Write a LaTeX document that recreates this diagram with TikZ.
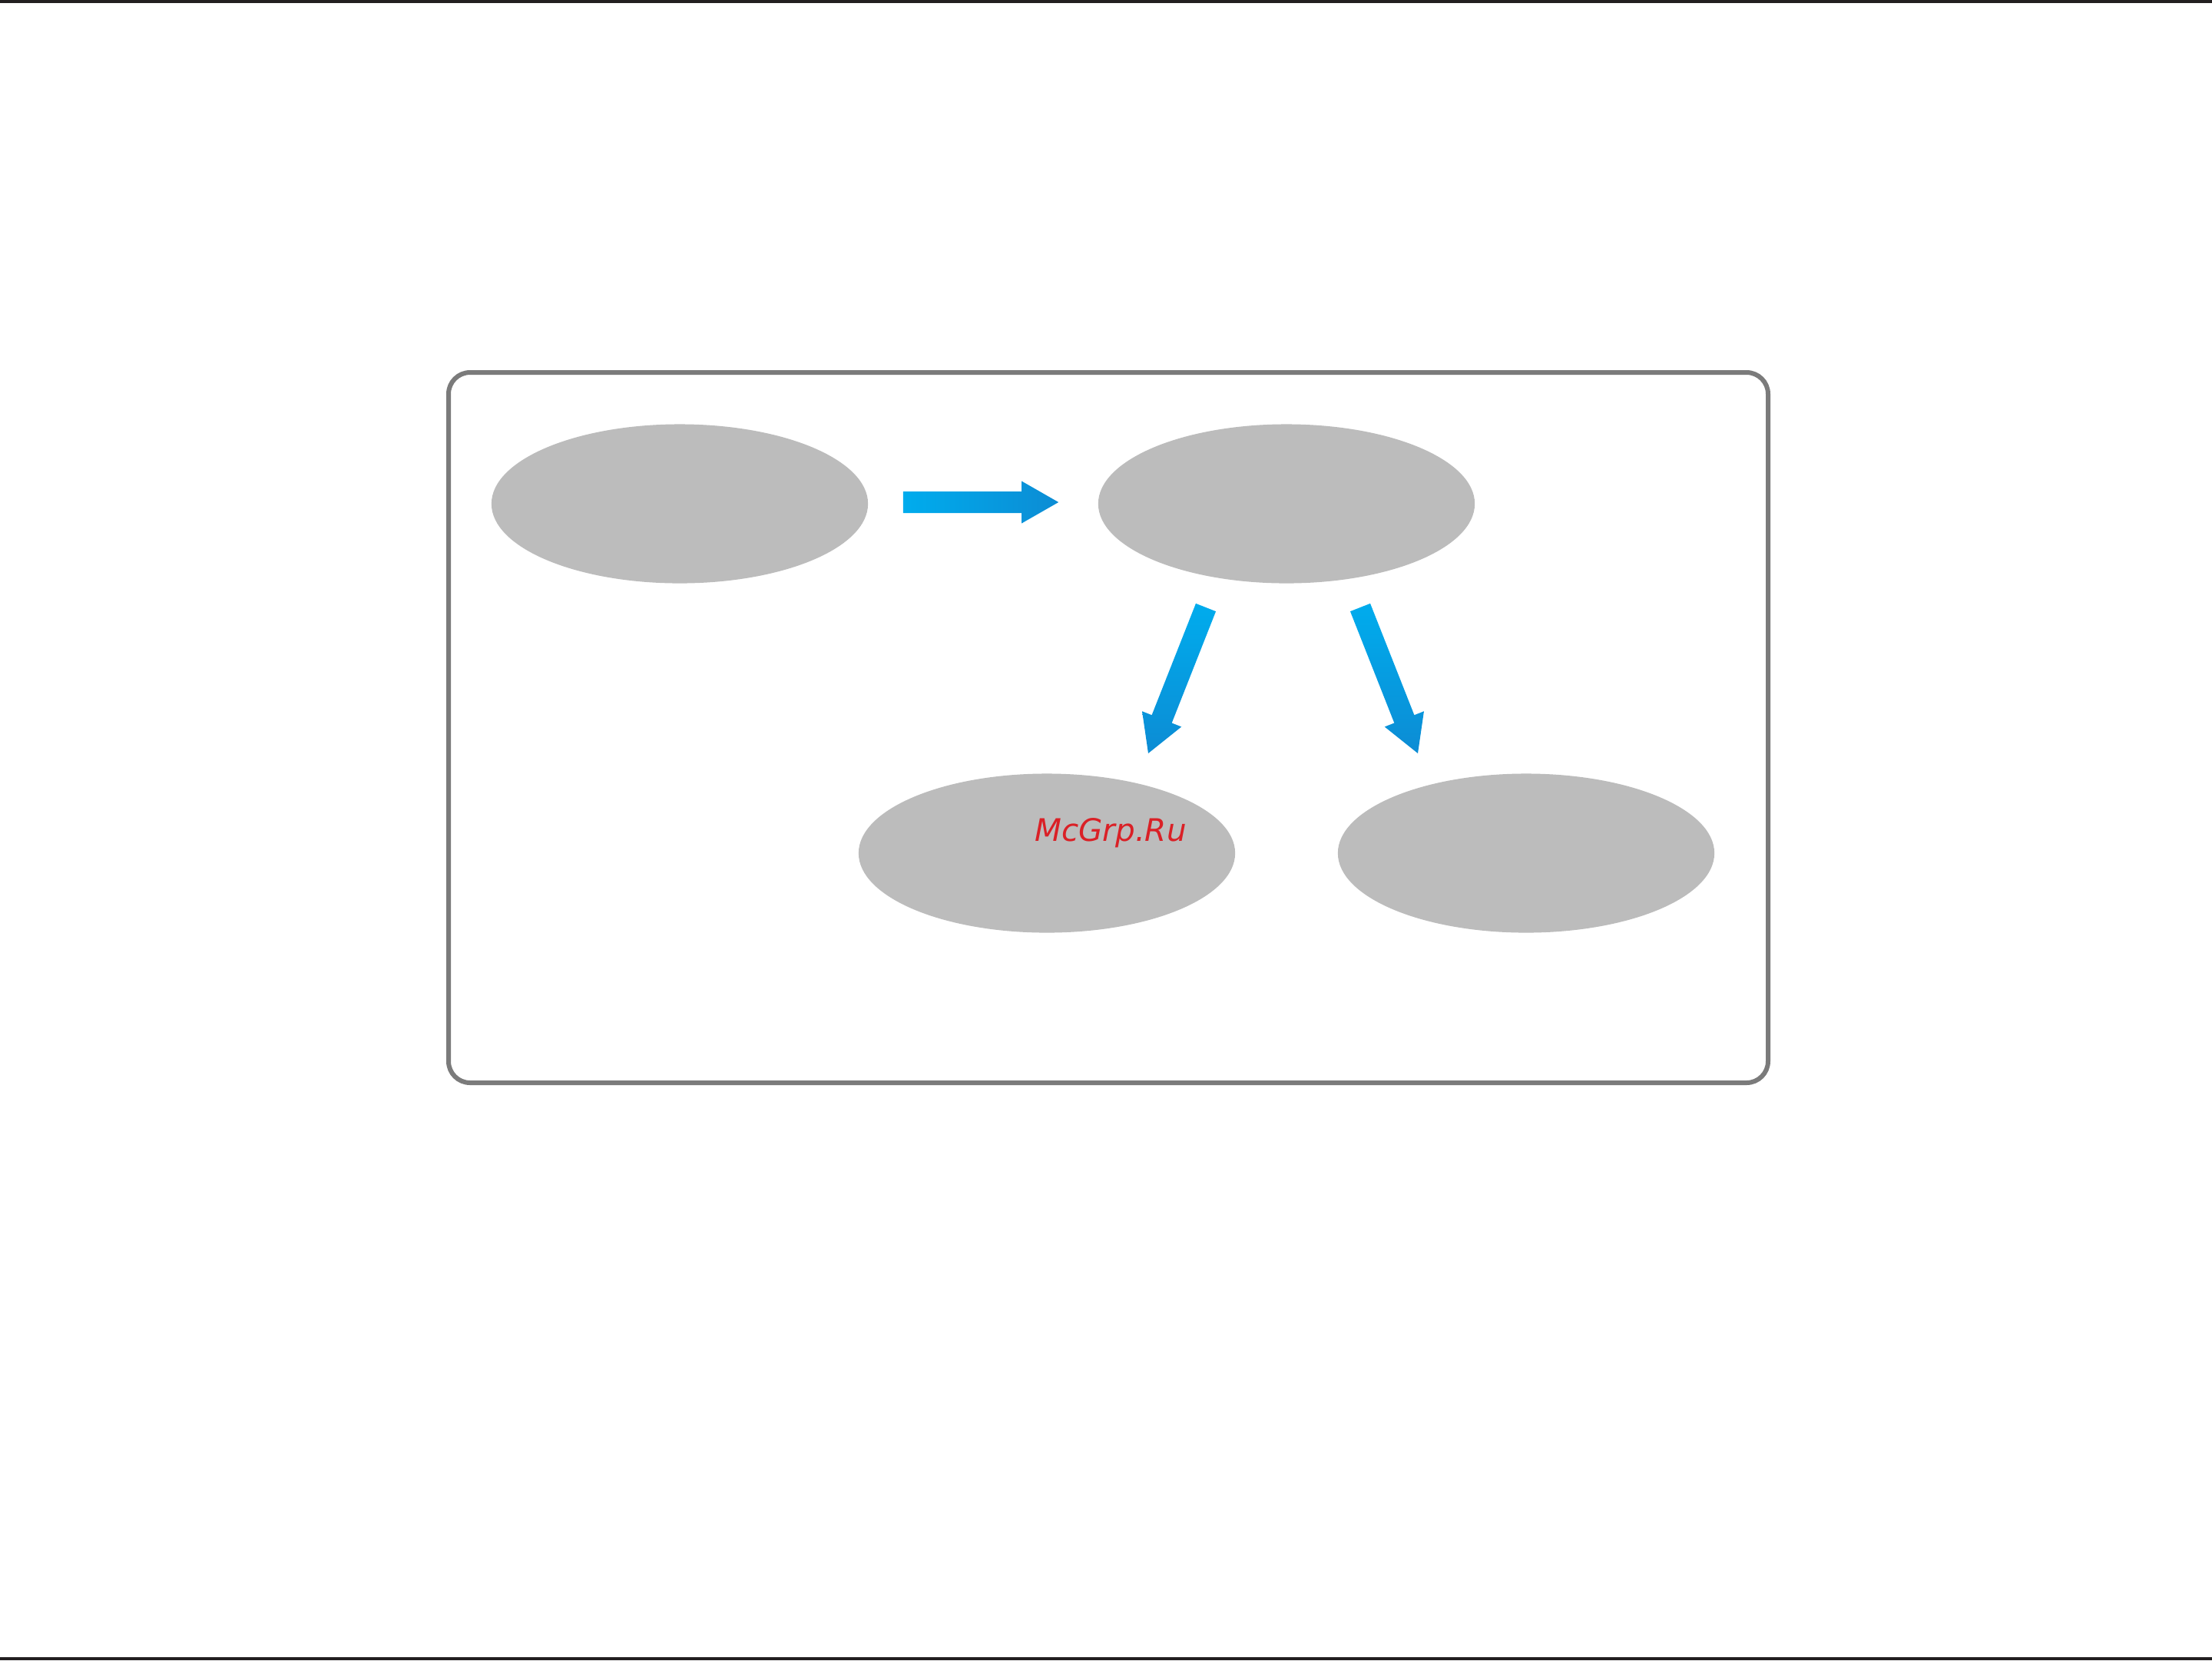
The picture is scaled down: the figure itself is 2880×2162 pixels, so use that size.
\documentclass[tikz,border=0pt]{standalone}
\usepackage{fontspec}
\usetikzlibrary{shapes.geometric,calc}
\newfontfamily\wmfont{DejaVu Sans}
\definecolor{ellgray}{HTML}{BCBCBC}
\definecolor{framegray}{HTML}{7B7B7B}
\definecolor{rulecol}{HTML}{231F20}
\definecolor{arrowA}{RGB}{0,172,237}
\definecolor{arrowB}{RGB}{12,140,212}
\definecolor{wmred}{RGB}{218,32,38}
\newcommand\fatarrow[3]{%
  \path ($(#2)!0.48cm!(#1)$) coordinate (fahb);
  \shade[#3] ($(#1)!0.14cm!90:(#2)$) -- ($(fahb)!0.14cm!90:(#2)$) -- ($(fahb)!0.275cm!90:(#2)$) -- (#2)
    -- ($(fahb)!0.275cm!-90:(#2)$) -- ($(fahb)!0.14cm!-90:(#2)$) -- ($(#1)!0.14cm!-90:(#2)$) -- cycle;}
\begin{document}
\begin{tikzpicture}[x=0.01cm,y=-0.01cm,
  oval/.style={ellipse,fill=ellgray,draw=none,inner sep=0pt,minimum width=4.9cm,minimum height=2.07cm},
  framebox/.style={draw=framegray,line width=0.06cm,rounded corners=0.28cm},
  hrule/.style={draw=rulecol,line width=0.04cm},
  harrow/.style={left color=arrowA,right color=arrowB,draw=none},
  varrow/.style={top color=arrowA,bottom color=arrowB,draw=none}]
\useasboundingbox (0,0) rectangle (2880,2162);
\draw[hrule] (0,2) -- (2880,2);
\draw[hrule] (0,2160) -- (2880,2160);
\draw[framebox] (584,485) rectangle (2302,1410);
\node[oval] (e1) at (885,656) {};
\node[oval] (e2) at (1675,656) {};
\node[oval] (e3) at (1363,1111) {};
\node[oval] (e4) at (1987,1111) {};
\coordinate (a1s) at ($(e1.east)+(45,-2)$);
\coordinate (a1e) at ($(e2.west)+(-51,-2)$);
\coordinate (a2s) at ($(e2)+(-105,135)$);
\coordinate (a2e) at ($(e3)+(132,-130)$);
\coordinate (a3s) at ($(e2)+(96,135)$);
\coordinate (a3e) at ($(e4)+(-141,-130)$);
\fatarrow{a1s}{a1e}{harrow}
\fatarrow{a2s}{a2e}{varrow}
\fatarrow{a3s}{a3e}{varrow}
\node[anchor=base,inner sep=0pt,text=wmred,font=\wmfont\itshape\fontsize{11.5pt}{13pt}\selectfont] (wm) at (1446,1095) {McGrp.Ru};
\end{tikzpicture}
\end{document}
